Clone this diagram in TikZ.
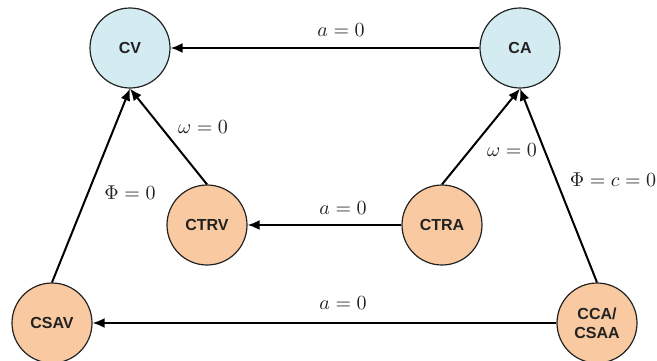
\documentclass[tikz,border=0pt]{standalone}
\usepackage{fontspec}
\setsansfont{Liberation Sans}
\usetikzlibrary{arrows.meta}
\definecolor{cvblue}{HTML}{D3EBF1}
\definecolor{ctpeach}{HTML}{F9C9A1}
\definecolor{cdark}{HTML}{222222}
\tikzset{
  model/.style={circle, draw=cdark, fill=#1, line width=0.6pt, minimum size=40pt, inner sep=0pt,
    align=center, font=\sffamily\bfseries\footnotesize, text=cdark},
  model/.default=ctpeach,
  reduce/.style={-{Latex[length=6pt, width=5pt]}, draw=black, line width=1pt},
  cond/.style={font=\normalsize, text=cdark},
}
\begin{document}
\begin{tikzpicture}[x=0.5pt, y=0.5pt]
  \useasboundingbox (0,0) rectangle (657,360);
  % constant velocity / acceleration
  \node[model=cvblue] (cv) at (130,312) {CV};
  \node[model=cvblue] (ca) at (520,312) {CA};
  % turn rate models
  \node[model] (ctrv) at (207,135) {CTRV};
  \node[model] (ctra) at (442,135) {CTRA};
  % steering models
  \node[model] (csav) at (52,37) {CSAV};
  \node[model] (ccsa) at (597,37) {CCA/\\CSAA};
  % horizontal reductions
  \draw[reduce] (ca.west) -- (cv.east);
  \draw[reduce] (ctra.west) -- (ctrv.east);
  \draw[reduce] (ccsa.west) -- (csav.east);
  % upward reductions
  \draw[reduce] (ctrv.north) -- (cv.south);
  \draw[reduce] (csav.north) -- (cv.south);
  \draw[reduce] (ctra.north) -- (ca.south);
  \draw[reduce] (ccsa.north) -- (ca.south);
  % conditions
  \node[cond] (l1) at (341,330) {$a=0$};
  \node[cond] (l2) at (343,152) {$a=0$};
  \node[cond] (l3) at (343,57) {$a=0$};
  \node[cond] (l4) at (203,233) {$\omega=0$};
  \node[cond] (l5) at (512,210) {$\omega=0$};
  \node[cond] (l6) at (130,167) {$\Phi=0$};
  \node[cond] (l7) at (613,180) {$\Phi=c=0$};
\end{tikzpicture}
\end{document}
